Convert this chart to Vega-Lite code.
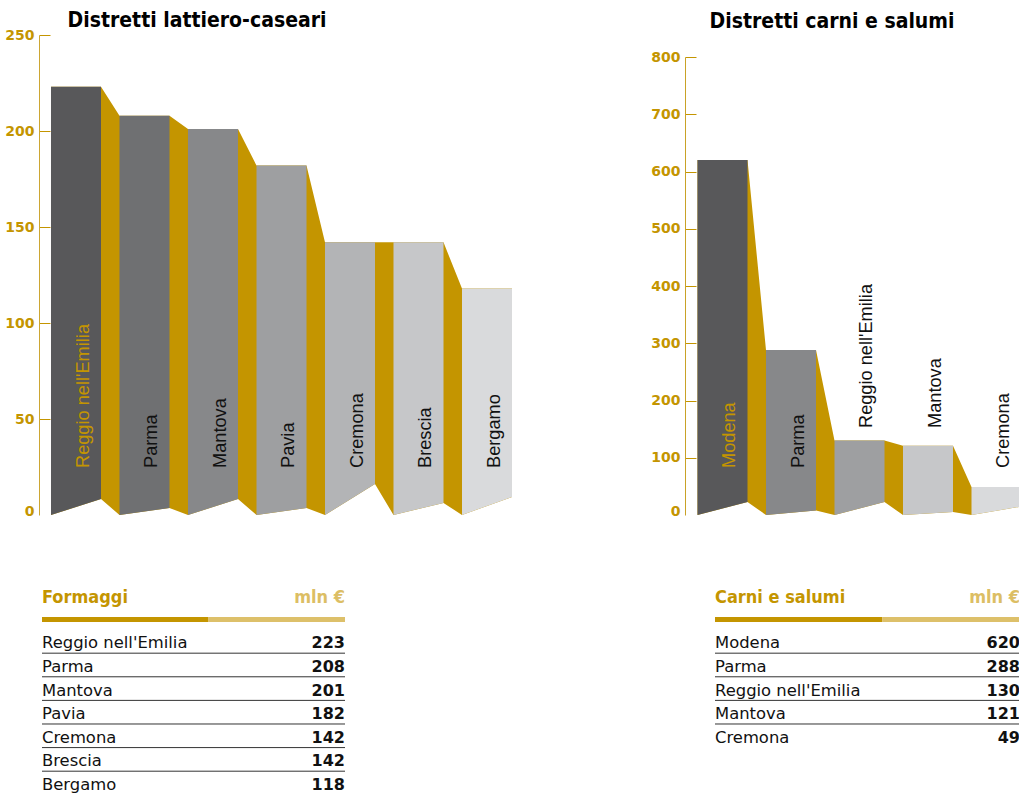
{
  "$schema": "https://vega.github.io/schema/vega-lite/v6.json",
  "background": "#ffffff",
  "padding": {"left": 4, "top": 10, "right": 0, "bottom": 0},
  "bounds": "flush",
  "align": "each",
  "columns": 2,
  "spacing": {"row": 70, "column": 166},
  "resolve": {"scale": {"color": "independent"}},
  "config": {"view": {"stroke": null}},
  "datasets": {
    "latte": [
      {"rank": 1, "district": "Reggio nell'Emilia", "value": 223},
      {"rank": 2, "district": "Parma", "value": 208},
      {"rank": 3, "district": "Mantova", "value": 201},
      {"rank": 4, "district": "Pavia", "value": 182},
      {"rank": 5, "district": "Cremona", "value": 142},
      {"rank": 6, "district": "Brescia", "value": 142},
      {"rank": 7, "district": "Bergamo", "value": 118}
    ],
    "carne": [
      {"rank": 1, "district": "Modena", "value": 620},
      {"rank": 2, "district": "Parma", "value": 288},
      {"rank": 3, "district": "Reggio nell'Emilia", "value": 130},
      {"rank": 4, "district": "Mantova", "value": 121},
      {"rank": 5, "district": "Cremona", "value": 49}
    ],
    "head_latte": [{"label": "Formaggi", "unit": "mln €"}],
    "head_carne": [{"label": "Carni e salumi", "unit": "mln €"}]
  },
  "concat": [
    {
      "width": 480,
      "height": 480,
      "title": {"text": "Distretti lattiero-caseari", "anchor": "middle", "dx": -82, "offset": -20, "baseline": "alphabetic", "font": "DejaVu Sans Condensed", "fontWeight": "bold", "fontSize": 21, "color": "#000000"},
      "data": {"name": "latte"},
      "layer": [
        {
          "transform": [
            {"calculate": "datum.rank - 0.365", "as": "x0"},
            {"calculate": "datum.rank + 0.365", "as": "x1"},
            {"fold": ["x0", "x1"], "as": ["edge", "xpos"]},
            {"calculate": "datum.edge == 'x1' ? [8.3, 3.6, 8.3, 3.6, 16.1, 6.3, 9.4][datum.rank - 1] : 0", "as": "base"}
          ],
          "mark": {"type": "area", "color": "#C49500"},
          "encoding": {
            "x": {"field": "xpos", "type": "quantitative", "scale": {"domain": [0.4599, 7.4672], "nice": false, "zero": false}, "axis": null, "title": null},
            "y": {"field": "value", "type": "quantitative", "stack": null, "title": null, "scale": {"domain": [0, 250], "nice": false, "zero": false},
              "axis": {"values": [0, 50, 100, 150, 200, 250], "grid": false, "title": null, "domainColor": "#CCA633", "domainWidth": 1, "tickColor": "#C49500", "tickWidth": 1, "tickSize": -11, "labelPadding": 16, "labelFont": "DejaVu Sans", "labelFontWeight": "bold", "labelFontSize": 14, "labelColor": "#C49500", "labelBaseline": {"condition": {"test": "datum.value == 0", "value": "alphabetic"}, "value": "middle"}, "tickOpacity": {"condition": {"test": "datum.value == 0", "value": 0}, "value": 1}, "labelOverlap": false, "labelFlush": false}},
            "y2": {"field": "base"}
          }
        },
        {
          "transform": [
            {"calculate": "datum.rank - 0.365", "as": "x0"},
            {"calculate": "datum.rank + 0.365", "as": "x1"},
            {"fold": ["x0", "x1"], "as": ["edge", "xpos"]},
            {"calculate": "datum.edge == 'x1' ? [8.3, 3.6, 8.3, 3.6, 16.1, 6.3, 9.4][datum.rank - 1] : 0", "as": "base"}
          ],
          "mark": {"type": "area"},
          "encoding": {
            "x": {"field": "xpos", "type": "quantitative", "title": null},
            "y": {"field": "value", "type": "quantitative", "stack": null, "title": null},
            "y2": {"field": "base"},
            "color": {"field": "district", "type": "nominal", "legend": null,
              "scale": {"domain": ["Reggio nell'Emilia", "Parma", "Mantova", "Pavia", "Cremona", "Brescia", "Bergamo"],
                        "range": ["#58585A", "#6F7072", "#87888A", "#9E9FA1", "#B3B4B6", "#C6C7C9", "#D9DADC"]}}
          }
        },
        {
          "mark": {"type": "text", "angle": 270, "align": "left", "baseline": "alphabetic", "dx": 47, "dy": 13, "font": "Liberation Sans", "fontSize": 18.2},
          "encoding": {
            "x": {"field": "rank", "type": "quantitative", "title": null},
            "y": {"datum": 0, "type": "quantitative", "title": null},
            "text": {"field": "district", "type": "nominal"},
            "color": {"condition": {"test": "datum.rank == 1", "value": "#C49500"}, "value": "#111111"}
          }
        }
      ]
    },
    {
      "width": 335,
      "height": 480,
      "title": {"text": "Distretti carni e salumi", "anchor": "middle", "dx": -20.5, "offset": -13.5, "baseline": "alphabetic", "font": "DejaVu Sans Condensed", "fontWeight": "bold", "fontSize": 21, "color": "#000000"},
      "data": {"name": "carne"},
      "layer": [
        {
          "transform": [
            {"calculate": "datum.rank - 0.365", "as": "x0"},
            {"calculate": "datum.rank + 0.365", "as": "x1"},
            {"fold": ["x0", "x1"], "as": ["edge", "xpos"]},
            {"calculate": "datum.edge == 'x1' ? [22.7, 7.9, 22.7, 5.2, 14.8][datum.rank - 1] : 0", "as": "base"}
          ],
          "mark": {"type": "area", "color": "#C49500", "clip": true},
          "encoding": {
            "x": {"field": "xpos", "type": "quantitative", "scale": {"domain": [0.4526, 5.3431], "nice": false, "zero": false}, "axis": null, "title": null},
            "y": {"field": "value", "type": "quantitative", "stack": null, "title": null, "scale": {"domain": [0, 800], "range": [480, 22], "nice": false, "zero": false},
              "axis": {"values": [0, 100, 200, 300, 400, 500, 600, 700, 800], "grid": false, "title": null, "domainColor": "#C9A227", "domainWidth": 1, "tickColor": "#C49500", "tickWidth": 1, "tickSize": -11, "labelPadding": 16, "labelFont": "DejaVu Sans", "labelFontWeight": "bold", "labelFontSize": 14, "labelColor": "#C49500", "labelBaseline": {"condition": {"test": "datum.value == 0", "value": "alphabetic"}, "value": "middle"}, "tickOpacity": {"condition": {"test": "datum.value == 0", "value": 0}, "value": 1}, "labelOverlap": false, "labelFlush": false}},
            "y2": {"field": "base"}
          }
        },
        {
          "transform": [
            {"calculate": "datum.rank - 0.365", "as": "x0"},
            {"calculate": "datum.rank + 0.365", "as": "x1"},
            {"fold": ["x0", "x1"], "as": ["edge", "xpos"]},
            {"calculate": "datum.edge == 'x1' ? [22.7, 7.9, 22.7, 5.2, 14.8][datum.rank - 1] : 0", "as": "base"}
          ],
          "mark": {"type": "area", "clip": true},
          "encoding": {
            "x": {"field": "xpos", "type": "quantitative", "title": null},
            "y": {"field": "value", "type": "quantitative", "stack": null, "title": null},
            "y2": {"field": "base"},
            "color": {"field": "district", "type": "nominal", "legend": null,
              "scale": {"domain": ["Modena", "Parma", "Reggio nell'Emilia", "Mantova", "Cremona"],
                        "range": ["#58585A", "#87888A", "#9E9FA1", "#C6C7C9", "#D9DADC"]}}
          }
        },
        {
          "transform": [{"filter": "datum.rank != 3 && datum.rank != 4"}],
          "mark": {"type": "text", "angle": 270, "align": "left", "baseline": "alphabetic", "dx": 47, "dy": 13, "font": "Liberation Sans", "fontSize": 18.2, "clip": true},
          "encoding": {
            "x": {"field": "rank", "type": "quantitative", "title": null},
            "y": {"datum": 0, "type": "quantitative", "title": null},
            "text": {"field": "district", "type": "nominal"},
            "color": {"condition": {"test": "datum.rank == 1", "value": "#C49500"}, "value": "#111111"}
          }
        },
        {
          "transform": [{"filter": "datum.rank == 3 || datum.rank == 4"}],
          "mark": {"type": "text", "angle": 270, "align": "left", "baseline": "alphabetic", "dx": 87, "dy": 13, "font": "Liberation Sans", "fontSize": 18.2, "color": "#111111", "clip": true},
          "encoding": {
            "x": {"field": "rank", "type": "quantitative", "title": null},
            "y": {"datum": 0, "type": "quantitative", "title": null},
            "text": {"field": "district", "type": "nominal"}
          }
        }
      ]
    },
    {
      "width": 306,
      "height": 205,
      "layer": [
        {
          "data": {"name": "head_latte"},
          "mark": {"type": "text", "align": "left", "baseline": "alphabetic", "font": "DejaVu Sans Condensed", "fontWeight": "bold", "fontSize": 18, "color": "#C49500"},
          "encoding": {
            "x": {"datum": 0, "type": "quantitative", "scale": {"domain": [0, 1], "range": [3, 306], "nice": false, "zero": false}, "axis": null},
            "y": {"datum": -0.92, "type": "quantitative", "scale": {"domain": [-1.682, 7.004], "reverse": true, "nice": false, "zero": false}, "axis": null},
            "text": {"field": "label", "type": "nominal"}
          }
        },
        {
          "data": {"name": "head_latte"},
          "mark": {"type": "text", "align": "right", "baseline": "alphabetic", "font": "DejaVu Sans Condensed", "fontWeight": "bold", "fontSize": 18, "color": "#DCBE64"},
          "encoding": {
            "x": {"datum": 1, "type": "quantitative"},
            "y": {"datum": -0.92, "type": "quantitative"},
            "text": {"field": "unit", "type": "nominal"}
          }
        },
        {
          "data": {"name": "head_latte"},
          "mark": {"type": "rule", "color": "#C49500", "strokeWidth": 5, "strokeCap": "butt"},
          "encoding": {
            "x": {"datum": 0, "type": "quantitative"},
            "x2": {"datum": 0.548},
            "y": {"datum": -0.22, "type": "quantitative"}
          }
        },
        {
          "data": {"name": "head_latte"},
          "mark": {"type": "rule", "color": "#DDC06A", "strokeWidth": 5, "strokeCap": "butt"},
          "encoding": {
            "x": {"datum": 0.548, "type": "quantitative"},
            "x2": {"datum": 1},
            "y": {"datum": -0.22, "type": "quantitative"}
          }
        },
        {
          "data": {"name": "latte"},
          "transform": [{"filter": "datum.rank < 7"}, {"calculate": "datum.rank + 0.207", "as": "sep"}],
          "mark": {"type": "rule", "color": "#333333", "strokeWidth": 1},
          "encoding": {
            "x": {"datum": 0, "type": "quantitative"},
            "x2": {"datum": 1},
            "y": {"field": "sep", "type": "quantitative"}
          }
        },
        {
          "data": {"name": "latte"},
          "mark": {"type": "text", "align": "left", "baseline": "alphabetic", "font": "DejaVu Sans", "fontSize": 16.4, "color": "#111111"},
          "encoding": {
            "x": {"datum": 0, "type": "quantitative"},
            "y": {"field": "rank", "type": "quantitative"},
            "text": {"field": "district", "type": "nominal"}
          }
        },
        {
          "data": {"name": "latte"},
          "mark": {"type": "text", "align": "right", "baseline": "alphabetic", "font": "DejaVu Sans", "fontWeight": "bold", "fontSize": 16, "color": "#111111"},
          "encoding": {
            "x": {"datum": 1, "type": "quantitative"},
            "y": {"field": "rank", "type": "quantitative"},
            "text": {"field": "value", "type": "nominal"}
          }
        }
      ]
    },
    {
      "width": 335,
      "height": 205,
      "layer": [
        {
          "data": {"name": "head_carne"},
          "mark": {"type": "text", "align": "left", "baseline": "alphabetic", "font": "DejaVu Sans Condensed", "fontWeight": "bold", "fontSize": 18, "color": "#C49500"},
          "encoding": {
            "x": {"datum": 0, "type": "quantitative", "scale": {"domain": [0, 1], "range": [30, 335], "nice": false, "zero": false}, "axis": null},
            "y": {"datum": -0.92, "type": "quantitative", "scale": {"domain": [-1.682, 7.004], "reverse": true, "nice": false, "zero": false}, "axis": null},
            "text": {"field": "label", "type": "nominal"}
          }
        },
        {
          "data": {"name": "head_carne"},
          "mark": {"type": "text", "align": "right", "baseline": "alphabetic", "font": "DejaVu Sans Condensed", "fontWeight": "bold", "fontSize": 18, "color": "#DCBE64"},
          "encoding": {
            "x": {"datum": 1, "type": "quantitative"},
            "y": {"datum": -0.92, "type": "quantitative"},
            "text": {"field": "unit", "type": "nominal"}
          }
        },
        {
          "data": {"name": "head_carne"},
          "mark": {"type": "rule", "color": "#C49500", "strokeWidth": 5, "strokeCap": "butt"},
          "encoding": {
            "x": {"datum": 0, "type": "quantitative"},
            "x2": {"datum": 0.548},
            "y": {"datum": -0.22, "type": "quantitative"}
          }
        },
        {
          "data": {"name": "head_carne"},
          "mark": {"type": "rule", "color": "#DDC06A", "strokeWidth": 5, "strokeCap": "butt"},
          "encoding": {
            "x": {"datum": 0.548, "type": "quantitative"},
            "x2": {"datum": 1},
            "y": {"datum": -0.22, "type": "quantitative"}
          }
        },
        {
          "data": {"name": "carne"},
          "transform": [{"filter": "datum.rank < 5"}, {"calculate": "datum.rank + 0.207", "as": "sep"}],
          "mark": {"type": "rule", "color": "#333333", "strokeWidth": 1},
          "encoding": {
            "x": {"datum": 0, "type": "quantitative"},
            "x2": {"datum": 1},
            "y": {"field": "sep", "type": "quantitative"}
          }
        },
        {
          "data": {"name": "carne"},
          "mark": {"type": "text", "align": "left", "baseline": "alphabetic", "font": "DejaVu Sans", "fontSize": 16.4, "color": "#111111"},
          "encoding": {
            "x": {"datum": 0, "type": "quantitative"},
            "y": {"field": "rank", "type": "quantitative"},
            "text": {"field": "district", "type": "nominal"}
          }
        },
        {
          "data": {"name": "carne"},
          "mark": {"type": "text", "align": "right", "baseline": "alphabetic", "font": "DejaVu Sans", "fontWeight": "bold", "fontSize": 16, "color": "#111111"},
          "encoding": {
            "x": {"datum": 1, "type": "quantitative"},
            "y": {"field": "rank", "type": "quantitative"},
            "text": {"field": "value", "type": "nominal"}
          }
        }
      ]
    }
  ]
}
